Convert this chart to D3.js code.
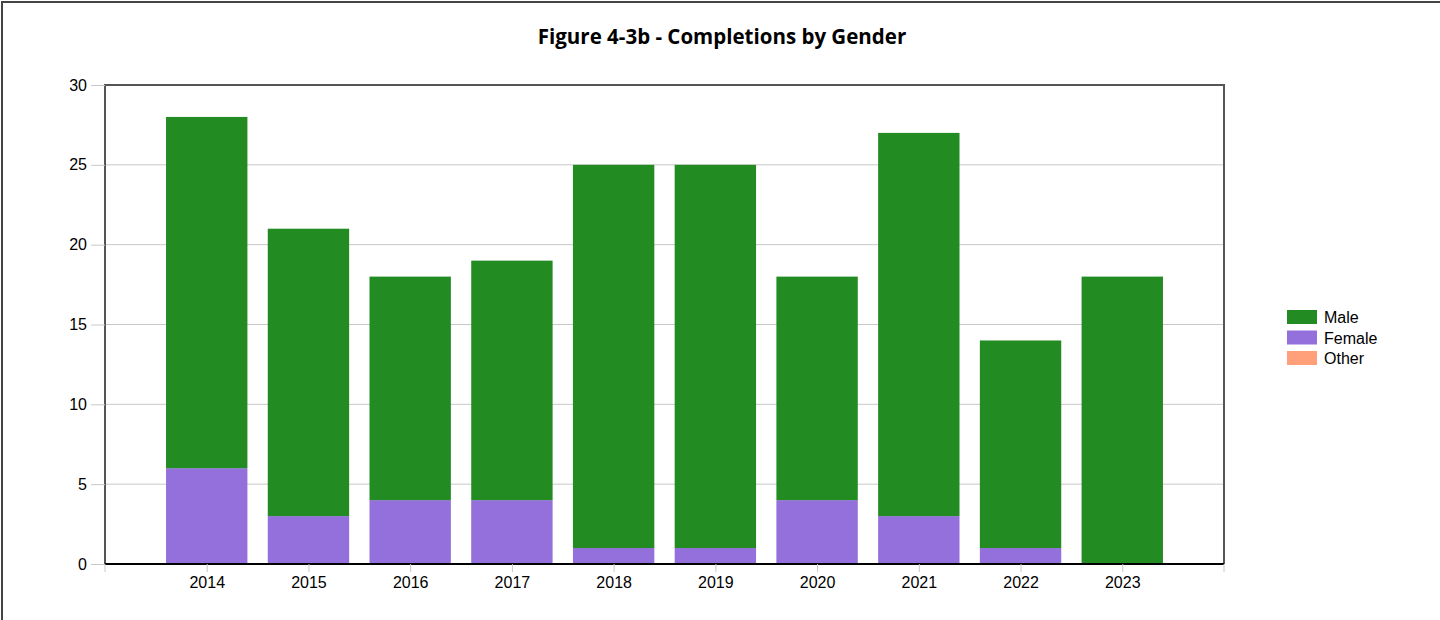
<!DOCTYPE html>
<html>
<head>
<meta charset="utf-8">
<script src="https://cdn.jsdelivr.net/npm/d3@7"></script>
<style>
  body { margin: 0; background: #fff; }
  .frame { position: absolute; left: 1px; top: 1px; width: 1439px; height: 619px; border-left: 2px solid #444; border-top: 2px solid #444; box-sizing: border-box; }
  svg { position: absolute; left: 0; top: 0; }
</style>
</head>
<body>
<div class="frame"></div>
<div class="chart"></div>
<script>
// data
var years = ["2014", "2015", "2016", "2017", "2018", "2019", "2020", "2021", "2022", "2023"];
var male = [22, 18, 14, 15, 24, 24, 14, 24, 13, 18];
var female = [6, 3, 4, 4, 1, 1, 4, 3, 1, 0];
var other = [0, 0, 0, 0, 0, 0, 0, 0, 0, 0];
var seriesNames = ["Male", "Female", "Other"];
var seriesColors = ["#228b22", "#9370db", "#ffa07a"];
var yTicks = [0, 5, 10, 15, 20, 25, 30];

var svgWidth = 1440;
var svgHeight = 620;
var margin = { top: 85, right: 216, bottom: 56, left: 105 };
var width = svgWidth - margin.left - margin.right;
var height = svgHeight - margin.top - margin.bottom;

var svg = d3.select(".chart").append("svg")
  .attr("width", svgWidth)
  .attr("height", svgHeight);

svg.append("text")
  .attr("x", 722)
  .attr("y", 44)
  .attr("text-anchor", "middle")
  .style("font-family", "'Open Sans', sans-serif")
  .style("font-weight", "bold")
  .style("font-size", "20.5px")
  .text("Figure 4-3b - Completions by Gender");

var chart = svg.append("g")
  .attr("transform", "translate(" + margin.left + "," + margin.top + ")");

var xScale = d3.scalePoint().domain(years).range([0, width]).padding(1);
var step = xScale.step();
var barW = step * 0.8;
var yScale = d3.scaleLinear().domain([0, 30]).range([height, 0]);

// gridlines
chart.selectAll(".grid").data(yTicks).enter().append("line")
  .attr("x1", 0).attr("x2", width)
  .attr("y1", function(d) { return yScale(d); })
  .attr("y2", function(d) { return yScale(d); })
  .attr("stroke", "#c8c8c8").attr("stroke-width", 1);

// stack the series
var rows = years.map(function(y, i) {
  return { year: y, Male: male[i], Female: female[i], Other: other[i] };
});
var stack = d3.stack().keys(["Female", "Male", "Other"]);
var layers = stack(rows);
var colorOf = d3.scaleOrdinal().domain(seriesNames).range(seriesColors);

chart.selectAll(".layer").data(layers).enter().append("g")
  .attr("fill", function(d) { return colorOf(d.key); })
  .selectAll("rect").data(function(d) { return d; }).enter().append("rect")
  .attr("x", function(d) { return xScale(d.data.year) - barW / 2; })
  .attr("width", barW)
  .attr("y", function(d) { return yScale(d[1]); })
  .attr("height", function(d) { return yScale(d[0]) - yScale(d[1]); });

// frame
chart.append("path")
  .attr("d", "M0," + height + "V0H" + width + "V" + height)
  .attr("fill", "none").attr("stroke", "#555").attr("stroke-width", 2);
chart.append("line")
  .attr("x1", 0).attr("x2", width).attr("y1", height).attr("y2", height)
  .attr("stroke", "#000").attr("stroke-width", 2);

var tickFont = "'Liberation Sans', Arial, sans-serif";

// left axis
var leftAxis = d3.axisLeft(yScale).tickValues(yTicks).tickSize(14).tickPadding(4);
var gy = chart.append("g").call(leftAxis);
gy.select(".domain").remove();
gy.selectAll(".tick line").attr("stroke", "#c8c8c8");
gy.selectAll(".tick text").style("font-family", tickFont).style("font-size", "16px").attr("fill", "#000");

// bottom axis
var bottomAxis = d3.axisBottom(xScale).tickSize(8).tickPadding(5);
var gx = chart.append("g").attr("transform", "translate(0," + height + ")").call(bottomAxis);
gx.select(".domain").remove();
gx.selectAll(".tick line").attr("stroke", "#c8c8c8");
gx.selectAll(".tick text").style("font-family", tickFont).style("font-size", "16px").attr("fill", "#000");
gx.selectAll(".endtick").data([0, width]).enter().append("line")
  .attr("x1", function(d) { return d; }).attr("x2", function(d) { return d; })
  .attr("y1", 0).attr("y2", 8).attr("stroke", "#c8c8c8");

// legend
var legend = svg.append("g").attr("transform", "translate(1287,310)");
var item = legend.selectAll("g").data(seriesNames).enter().append("g")
  .attr("transform", function(d, i) { return "translate(0," + i * 20.5 + ")"; });
item.append("rect").attr("width", 30).attr("height", 14)
  .attr("fill", function(d) { return colorOf(d); });
item.append("text").attr("x", 37).attr("y", 13)
  .style("font-family", tickFont).style("font-size", "16px")
  .text(function(d) { return d; });
</script>
</body>
</html>
